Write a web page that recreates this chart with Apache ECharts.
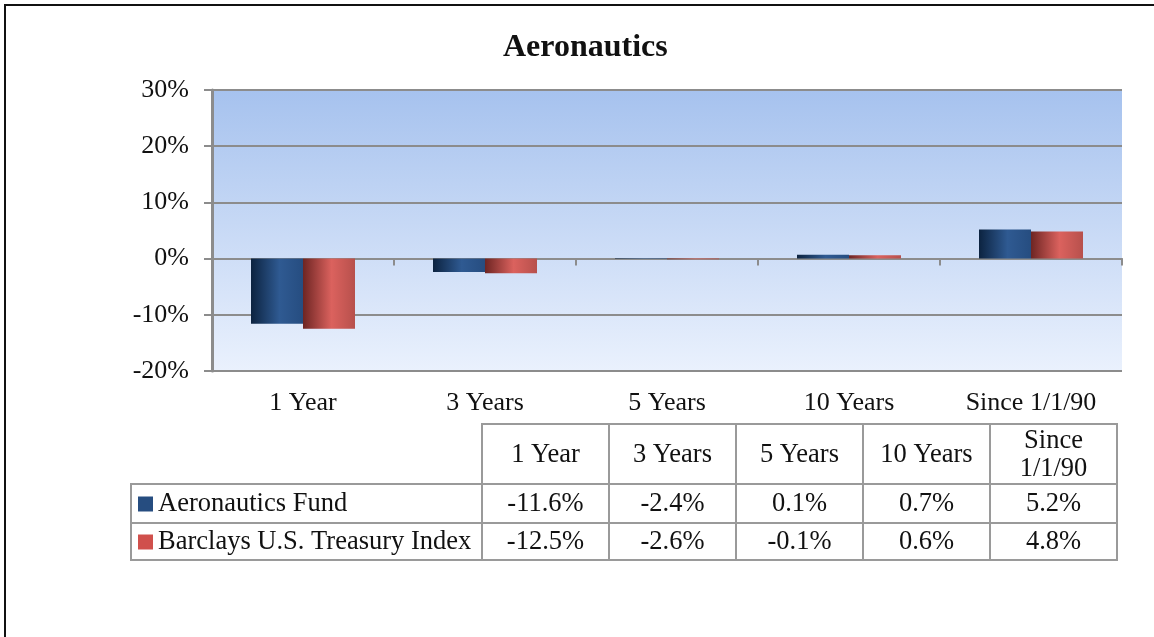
<!DOCTYPE html>
<html>
<head>
<meta charset="utf-8">
<script src="https://cdn.jsdelivr.net/npm/echarts@6/dist/echarts.min.js"></script>
<style>
  html, body { margin: 0; padding: 0; background: #fff; }
  #chart { width: 1154px; height: 637px; }
</style>
</head>
<body>
<div id="chart"></div>
<script>
// data (table values)
const categories = ["1 Year", "3 Years", "5 Years", "10 Years", "Since 1/1/90"];
const tableHeaders = ["1 Year", "3 Years", "5 Years", "10 Years", "Since\n1/1/90"];
const seriesNames = ["Aeronautics Fund", "Barclays U.S. Treasury Index"];
const fundValues = [-11.6, -2.4, 0.1, 0.7, 5.2];
const indexValues = [-12.5, -2.6, -0.1, 0.6, 4.8];
const yTicks = [-20, -10, 0, 10, 20, 30];

const font = "'Liberation Serif', 'Times New Roman', serif";

const barGrad = (dark, mid, edge) => ({
  type: "linear", x: 0, y: 0, x2: 1, y2: 0,
  colorStops: [
    { offset: 0, color: dark },
    { offset: 0.55, color: mid },
    { offset: 1, color: edge }
  ]
});
const blueFill = barGrad("#0c2340", "#2f5a92", "#264d80");
const redFill = barGrad("#6e2523", "#db625e", "#b7504c");

// table geometry
const tblLeft = 131;
const colX = [482, 609, 736, 863, 990, 1117];
const rowY = [424, 484, 523, 560];
const gray = "#9a9a9a";
const cellFont = "26.5px " + font;

const graphics = [];
// outer frame
graphics.push({
  type: "rect", shape: { x: 5, y: 5, width: 1200, height: 700 },
  style: { fill: null, stroke: "#111", lineWidth: 2 }, silent: true
});
// header row cells
for (let c = 0; c < 5; c++) {
  graphics.push({
    type: "rect",
    shape: { x: colX[c], y: rowY[0], width: colX[c + 1] - colX[c], height: rowY[1] - rowY[0] },
    style: { fill: "#fff", stroke: gray, lineWidth: 2 }
  });
  graphics.push({
    type: "text",
    x: (colX[c] + colX[c + 1]) / 2, y: (rowY[0] + rowY[1]) / 2 + 1,
    style: {
      text: tableHeaders[c], font: cellFont, fill: "#111",
      align: "center", verticalAlign: "middle", lineHeight: 28
    }
  });
}
// data rows
const rows = [
  { name: seriesNames[0], vals: fundValues, swatch: "#264d80" },
  { name: seriesNames[1], vals: indexValues, swatch: "#d0504c" }
];
rows.forEach((r, i) => {
  const y0 = rowY[i + 1], y1 = rowY[i + 2];
  graphics.push({
    type: "rect", shape: { x: tblLeft, y: y0, width: colX[0] - tblLeft, height: y1 - y0 },
    style: { fill: "#fff", stroke: gray, lineWidth: 2 }
  });
  graphics.push({
    type: "rect", shape: { x: 138, y: (y0 + y1) / 2 - 7, width: 15, height: 15 },
    style: { fill: r.swatch }
  });
  graphics.push({
    type: "text", x: 158, y: (y0 + y1) / 2 + 1,
    style: { text: r.name, font: cellFont, fill: "#111", verticalAlign: "middle" }
  });
  for (let c = 0; c < 5; c++) {
    graphics.push({
      type: "rect",
      shape: { x: colX[c], y: y0, width: colX[c + 1] - colX[c], height: y1 - y0 },
      style: { fill: "#fff", stroke: gray, lineWidth: 2 }
    });
    graphics.push({
      type: "text", x: (colX[c] + colX[c + 1]) / 2, y: (y0 + y1) / 2 + 1,
      style: {
        text: r.vals[c].toFixed(1) + "%", font: cellFont, fill: "#111",
        align: "center", verticalAlign: "middle"
      }
    });
  }
});

const chart = echarts.init(document.getElementById("chart"));
chart.setOption({
  animation: false,
  backgroundColor: "#fff",
  title: {
    text: "Aeronautics", left: 498, top: 27,
    textStyle: { fontFamily: font, fontSize: 32, fontWeight: "bold", color: "#111" }
  },
  grid: {
    left: 212, top: 90, width: 910, height: 281,
    show: true, borderWidth: 0,
    backgroundColor: {
      type: "linear", x: 0, y: 0, x2: 0, y2: 1,
      colorStops: [{ offset: 0, color: "#a6c2ee" }, { offset: 1, color: "#eaf1fd" }]
    }
  },
  xAxis: [
    {
      type: "category", data: categories,
      axisLine: { onZero: true, lineStyle: { color: "#8c8c8c", width: 2 } },
      axisTick: { show: true, length: 7, lineStyle: { color: "#8c8c8c", width: 2 } },
      axisLabel: { show: false }
    },
    {
      type: "category", data: categories, position: "bottom",
      axisLine: { show: false }, axisTick: { show: false },
      axisLabel: { margin: 19, fontFamily: font, fontSize: 26, color: "#111" }
    }
  ],
  yAxis: {
    type: "value", min: yTicks[0], max: yTicks[yTicks.length - 1], interval: 10,
    axisLine: { show: true, lineStyle: { color: "#8c8c8c", width: 3 } },
    axisTick: { show: true, length: 8, lineStyle: { color: "#8c8c8c", width: 2 } },
    splitLine: { lineStyle: { color: "#8c8c8c", width: 2 } },
    axisLabel: {
      margin: 23, fontFamily: font, fontSize: 26, color: "#111",
      formatter: v => v + "%"
    }
  },
  series: [
    {
      name: seriesNames[0], type: "bar", data: fundValues,
      barWidth: 52, barGap: "0%",
      itemStyle: { color: blueFill }
    },
    {
      name: seriesNames[1], type: "bar", data: indexValues,
      barWidth: 52, barGap: "0%",
      itemStyle: { color: redFill }
    }
  ],
  graphic: graphics
});
</script>
</body>
</html>
